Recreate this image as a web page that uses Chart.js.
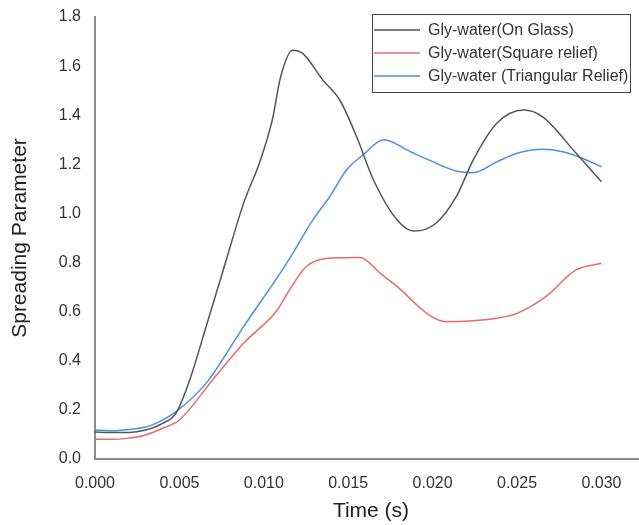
<!DOCTYPE html>
<html>
<head>
<meta charset="utf-8">
<script src="https://cdn.jsdelivr.net/npm/chart.js@4/dist/chart.umd.min.js"></script>
<style>
  html, body { margin: 0; padding: 0; background: #fff; overflow: hidden; }
</style>
</head>
<body>
<canvas id="myChart" width="650" height="525"></canvas>
<script>
// series labels
const seriesLabels = [
  "Gly-water(On Glass)",
  "Gly-water(Square relief)",
  "Gly-water (Triangular Relief)",
];

// On Glass (black)
const glassTime = [0, 0.001, 0.002, 0.003, 0.004, 0.0048, 0.0056, 0.0067, 0.0076, 0.0088, 0.0098, 0.0105, 0.011, 0.0117, 0.0123, 0.0135, 0.0145, 0.0155, 0.0165, 0.0179, 0.0189, 0.0202, 0.0214, 0.0224, 0.0238, 0.0254, 0.0265, 0.0285, 0.030];
const glassValues = [0.11, 0.108, 0.108, 0.118, 0.145, 0.187, 0.32, 0.566, 0.77, 1.041, 1.217, 1.38, 1.557, 1.665, 1.652, 1.543, 1.462, 1.312, 1.136, 0.973, 0.928, 0.96, 1.068, 1.217, 1.367, 1.421, 1.394, 1.245, 1.129];

// Square relief (red)
const squareTime = [0, 0.001, 0.002, 0.003, 0.004, 0.005, 0.007, 0.0088, 0.0108, 0.0114, 0.0125, 0.0137, 0.0157, 0.0169, 0.0179, 0.0198, 0.0208, 0.0238, 0.025, 0.0267, 0.0285, 0.030];
const squareValues = [0.08, 0.08, 0.085, 0.098, 0.125, 0.159, 0.325, 0.471, 0.607, 0.675, 0.783, 0.817, 0.821, 0.756, 0.702, 0.586, 0.559, 0.573, 0.593, 0.661, 0.77, 0.797];

// Triangular relief (blue)
const triTime = [0, 0.001, 0.002, 0.003, 0.0037, 0.0048, 0.0066, 0.0088, 0.01135, 0.0129, 0.0139, 0.0149, 0.0159, 0.0171, 0.0187, 0.0198, 0.0214, 0.0224, 0.0238, 0.025, 0.0265, 0.0277, 0.0289, 0.030];
const triValues = [0.118, 0.115, 0.12, 0.13, 0.148, 0.193, 0.31, 0.539, 0.797, 0.973, 1.068, 1.177, 1.24, 1.30, 1.251, 1.217, 1.173, 1.166, 1.21, 1.245, 1.261, 1.251, 1.224, 1.19];

// tick labels
const xTicks = [0, 0.005, 0.010, 0.015, 0.020, 0.025, 0.030];
const yTicks = [0, 0.2, 0.4, 0.6, 0.8, 1.0, 1.2, 1.4, 1.6, 1.8];

const colors = ["#555555", "#e46c6c", "#4b90e2"];
const FONT = "'Liberation Sans', Arial, sans-serif";

function toPoints(ts, vs) {
  return ts.map((t, i) => ({ x: t, y: vs[i] }));
}

// legend box drawn inside the plot, top right
const boxLegend = {
  id: "boxLegend",
  afterDraw(chart) {
    const ctx = chart.ctx;
    const left = 372, top = 14, right = 630, bottom = 92;
    ctx.save();
    ctx.fillStyle = "#fff";
    ctx.fillRect(left, top, right - left, bottom - top);
    ctx.strokeStyle = "#444";
    ctx.lineWidth = 1;
    ctx.strokeRect(left + 0.5, top + 0.5, right - left, bottom - top);
    ctx.font = "16px " + FONT;
    ctx.textBaseline = "middle";
    chart.data.datasets.forEach((ds, i) => {
      const y = 30 + i * 23;
      ctx.strokeStyle = ds.borderColor;
      ctx.lineWidth = 1.5;
      ctx.beginPath();
      ctx.moveTo(374, y);
      ctx.lineTo(420, y);
      ctx.stroke();
      ctx.fillStyle = "#333";
      ctx.fillText(ds.label, 428, y + 1);
    });
    ctx.restore();
  },
};

const ctx = document.getElementById("myChart").getContext("2d");

const myChart = new Chart(ctx, {
  type: "scatter",
  data: {
    datasets: [
      { label: seriesLabels[0], data: toPoints(glassTime, glassValues), borderColor: colors[0] },
      { label: seriesLabels[1], data: toPoints(squareTime, squareValues), borderColor: colors[1] },
      { label: seriesLabels[2], data: toPoints(triTime, triValues), borderColor: colors[2] },
    ],
  },
  options: {
    responsive: false,
    animation: false,
    showLine: true,
    elements: {
      point: { radius: 0, hoverRadius: 0 },
      line: { borderWidth: 1.5, cubicInterpolationMode: "monotone", fill: false },
    },
    layout: { padding: { top: 17, right: 3, left: 0, bottom: 0 } },
    plugins: {
      legend: { display: false },
      tooltip: { enabled: false },
    },
    scales: {
      x: {
        type: "linear",
        min: 0,
        max: 0.0327,
        grid: { display: false, drawTicks: false },
        border: { color: "#8a8a8a", width: 2 },
        afterBuildTicks: (scale) => { scale.ticks = xTicks.map((v) => ({ value: v })); },
        afterFit: (scale) => { scale.height = 66; },
        ticks: {
          padding: 15,
          color: "#333",
          font: { family: FONT, size: 16 },
          callback: (v) => v.toFixed(3),
        },
        title: {
          display: true,
          text: "Time (s)",
          color: "#222",
          font: { family: FONT, size: 21 },
          padding: { top: 0, bottom: 1 },
        },
      },
      y: {
        min: 0,
        max: 1.8,
        grid: { display: false, drawTicks: false },
        border: { color: "#8a8a8a", width: 2 },
        afterBuildTicks: (scale) => { scale.ticks = yTicks.map((v) => ({ value: v })); },
        afterFit: (scale) => {
          scale.width = 95;
          scale.paddingTop = 0;
          scale.paddingBottom = 0;
        },
        ticks: {
          padding: 14,
          color: "#333",
          font: { family: FONT, size: 16 },
          callback: (v) => v.toFixed(1),
        },
        title: {
          display: true,
          text: "Spreading Parameter",
          color: "#222",
          font: { family: FONT, size: 21 },
          padding: { top: 8, bottom: 0 },
        },
      },
    },
  },
  plugins: [boxLegend],
});
</script>
</body>
</html>
